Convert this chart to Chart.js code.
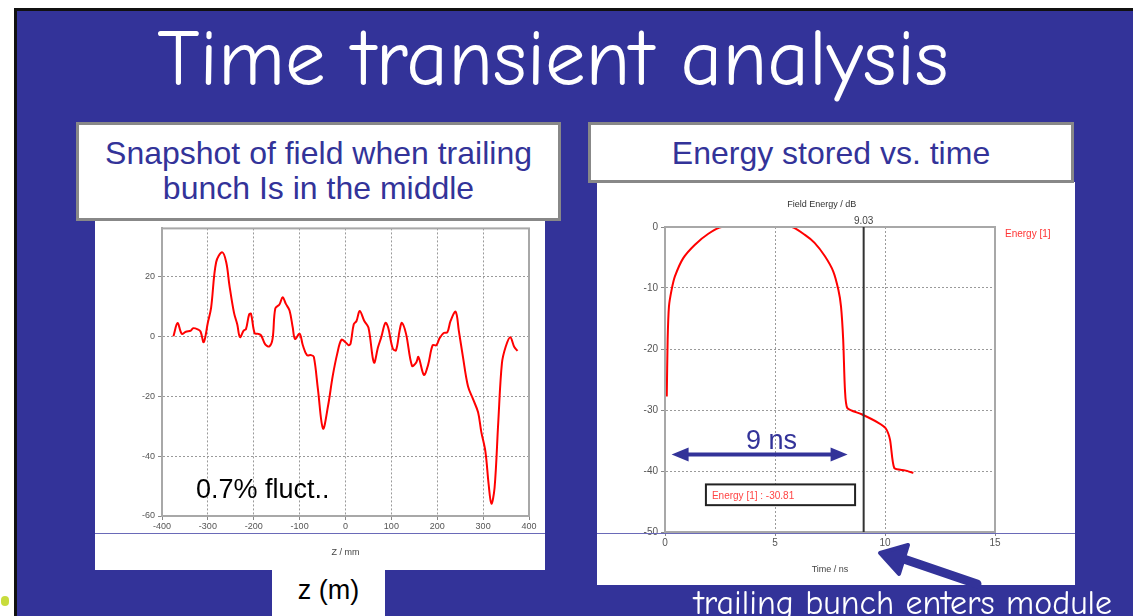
<!DOCTYPE html>
<html>
<head>
  <title>Time transient analysis</title>
  <style>
    body {
      margin: 0;
      width: 1133px;
      height: 616px;
      overflow: hidden;
      background: #fff;
      font-family: "Liberation Sans", Arial, sans-serif;
    }

    #slide {
      position: absolute;
      left: 14px;
      top: 8px;
      width: 1130px;
      height: 620px;
      background: #333399;
      border-left: 3px solid #111;
      border-top: 3px solid #111;
    }

    .abs { position: absolute; }

    #title {
      left: 0; top: 14px; width: 1106px;
      text-align: center;
      color: #fff;
      font-family: "Comic Sans MS", "Comic Neue", Lato, sans-serif;
      font-size: 81px;
      line-height: 90px;
      white-space: nowrap;
    }

    .header {
      background: #fff;
      border: 3px solid #888;
      box-sizing: border-box;
      color: #333399;
      text-align: center;
      font-size: 32px;
      line-height: 35px;
      white-space: nowrap;
    }

    .panel { background: #fff; }

    #leftHead { left: 76px; top: 122px; width: 485px; height: 99px; padding-top: 11px; }
    #rightHead { left: 588px; top: 122px; width: 486px; height: 61px; padding-top: 11px; }

    #leftPanel { left: 95px; top: 220px; width: 450px; height: 350px; }
    #rightPanel { left: 597px; top: 182px; width: 478px; height: 403px; }

    .sep { height: 0; border-top: 1.5px solid #6a6ab8; }

    #zbox {
      left: 272px; top: 570px; width: 113px; height: 50px;
      background: #fff; text-align: center;
      font-size: 27px; line-height: 40px; color: #000;
    }

    #fluct { left: 196px; top: 474px; font-size: 27px; color: #000; }

    #bunch {
      left: 694px; top: 583px;
      color: #fff;
      font-family: "Comic Sans MS", "Comic Neue", Lato, sans-serif;
      font-size: 34px;
      white-space: nowrap;
    }

    #dot { left: 1px; top: 596px; width: 8px; height: 10px; border-radius: 5px; background: #c8dc3c; }
  </style>
</head>
<body>
  <div id="slide"></div>
  <div id="dot" class="abs"></div>
  <div id="title" class="abs">Time transient analysis</div>

  <div id="leftPanel" class="abs panel"><canvas id="fieldChart" width="450" height="350"></canvas></div>
  <div id="rightPanel" class="abs panel"><canvas id="energyChart" width="478" height="403"></canvas></div>

  <div class="abs sep" style="left:95px; top:533px; width:450px;"></div>
  <div class="abs sep" style="left:597px; top:533px; width:478px;"></div>

  <div id="leftHead" class="abs header">Snapshot of field when trailing<br>bunch Is in the middle</div>
  <div id="rightHead" class="abs header">Energy stored vs. time</div>

  <div id="fluct" class="abs">0.7% fluct..</div>
  <div id="zbox" class="abs">z (m)</div>

  <svg class="abs" style="left:0; top:0;" width="1133" height="616">
    <line x1="977" y1="584" x2="895" y2="556" stroke="#333399" stroke-width="9" stroke-linecap="round"/>
    <polygon points="880,553 908,545 899,574" fill="#333399" stroke="#333399" stroke-width="4" stroke-linejoin="round"/>
  </svg>
  <div id="bunch" class="abs">trailing bunch enters module</div>

  <script src="https://cdn.jsdelivr.net/npm/chart.js"></script>
  <script>
    // field snapshot along z (mm)
    const zPos = [-375, -366, -357, -348, -337, -332, -322, -316, -309, -300, -293, -282, -269, -260, -253,
      -243, -236, -230, -222, -217, -210, -206, -198, -190, -184, -175, -166, -159, -153, -144, -137,
      -130, -122, -115, -110, -100, -93, -84, -75, -69, -60, -49, -38, -28, -18, -9, 0, 7, 11, 18, 24,
      31, 41, 50, 62, 71, 78, 87, 93, 103, 110, 118, 123, 132, 145, 154, 159, 171, 180, 190, 198, 205,
      214, 222, 229, 240, 247, 256, 267, 278, 289, 296, 305, 312, 318, 325, 333, 341, 349, 359, 368, 375];
    const fieldVal = [0, 4.4, 0.8, 1.5, 1.9, 2.7, 2.3, 1.6, -2, 4.6, 9.5, 24.7, 28, 24.7, 17,
      7.8, 4, -0.3, 1.9, 2.4, 7.3, 7.5, 1, 0.8, 0.3, -2.7, -3.4, -0.9, 9.3, 10.6, 13,
      10.8, 8.6, 2.9, -0.9, 0.8, -3, -6.3, -6.3, -6.9, -17.8, -30.8, -23.2, -13.4, -5.8, -1.2, -2, -3, -2.5, 4, 5.1,
      8.4, 5.1, 2.9, -8.8, -3.6, -0.3, 4.5, 2.9, -4.1, -4.7, 1.9, 4.5, 0.8, -9.9, -8.8, -6.9, -12.9, -9.6, -3, -3, -0.7,
      1.1, 1.3, 5.1, 8.2, 1.9, -6.9, -16.7, -21, -25.4, -31.9, -38.5, -49.4, -55.9, -50.5, -28.7, -9, -3.6, -0.3, -3.6, -4.9];

    // stored field energy vs time (ns)
    const timeNs = [0.08, 0.12, 0.18, 0.3, 0.45, 0.83, 1.36, 1.97, 2.58, 5.76, 6.36, 6.8, 7.27, 7.65,
      7.88, 8.0, 8.1, 8.18, 8.29, 8.94, 9.7, 10.03, 10.23, 10.42, 10.9, 11.29];
    const energyDb = [-27.8, -18.5, -13, -10.3, -8.1, -5.1, -2.9, -1.1, 0, 0, -1.3, -2.6, -4.8, -7.3,
      -10.3, -13, -18.5, -26.7, -29.7, -30.7, -32.1, -33, -34.9, -39.5, -39.9, -40.3];

    const fieldTicks = [-60, -40, -20, 0, 20];
    const markerTime = 9.03;
    const markerLabel = "9.03";
    const readout = "Energy [1] : -30.81";
    const seriesName = "Energy [1]";

    const tickFont = { family: "'Liberation Sans', Arial, sans-serif", size: 9 };
    const gridStyle = { color: "#9a9a9a", lineWidth: 1, tickLength: 4, tickColor: "#888" };

    // frame round the plot area, like the solver output
    const frame = {
      id: "frame",
      afterDraw(chart) {
        const { ctx, chartArea: a } = chart;
        ctx.save();
        ctx.strokeStyle = "#a8a8a8";
        ctx.lineWidth = 2;
        ctx.strokeRect(a.left, a.top, a.right - a.left, a.bottom - a.top);
        ctx.restore();
      }
    };

    new Chart(document.getElementById("fieldChart"), {
      type: "line",
      data: {
        datasets: [{
          data: zPos.map((z, i) => ({ x: z, y: fieldVal[i] })),
          borderColor: "#ff0000",
          borderWidth: 2,
          pointRadius: 0,
          tension: 0.35
        }]
      },
      options: {
        responsive: false,
        animation: false,
        layout: { padding: { left: 0, right: 16, top: 2, bottom: 0 } },
        plugins: { legend: { display: false }, tooltip: { enabled: false } },
        scales: {
          x: {
            type: "linear", min: -400, max: 400,
            ticks: { stepSize: 100, color: "#555", font: tickFont, maxRotation: 0, padding: 1 },
            grid: gridStyle,
            border: { color: "#a8a8a8", width: 2, dash: [2, 2] },
            title: { display: true, text: "Z / mm", color: "#444", font: tickFont, padding: { top: 0, bottom: 12 } },
            afterFit(ax) { ax.height = 54; }
          },
          y: {
            min: -60, max: 36,
            ticks: { color: "#555", font: tickFont, padding: 3 },
            afterBuildTicks(ax) { ax.ticks = fieldTicks.map(v => ({ value: v })); },
            grid: gridStyle,
            border: { color: "#a8a8a8", width: 2, dash: [2, 2] },
            afterFit(ax) { ax.width = 67; }
          }
        }
      },
      plugins: [frame]
    });

    // marker line, readout box, legend, axis heading and the 9 ns span
    const energyExtras = {
      id: "energyExtras",
      afterDraw(chart) {
        const { ctx, chartArea: a, scales: { x, y } } = chart;
        ctx.save();
        ctx.font = "9px 'Liberation Sans', Arial, sans-serif";
        ctx.fillStyle = "#333";
        ctx.textAlign = "center";
        ctx.fillText("Field Energy / dB", a.left + (a.right - a.left) * 0.475, 25);

        const mx = x.getPixelForValue(markerTime);
        ctx.strokeStyle = "#333";
        ctx.lineWidth = 2;
        ctx.beginPath();
        ctx.moveTo(mx, a.top);
        ctx.lineTo(mx, a.bottom);
        ctx.stroke();
        ctx.fillStyle = "#444";
        ctx.font = "10px 'Liberation Sans', Arial, sans-serif";
        ctx.fillText(markerLabel, mx, a.top - 3);

        ctx.textAlign = "left";
        ctx.fillStyle = "#ff3333";
        ctx.fillText(seriesName, a.right + 10, a.top + 10);

        const bx1 = x.getPixelForValue(1.86), bx2 = x.getPixelForValue(8.64);
        const by1 = y.getPixelForValue(-42.2), by2 = y.getPixelForValue(-45.6);
        ctx.fillStyle = "#fff";
        ctx.fillRect(bx1, by1, bx2 - bx1, by2 - by1);
        ctx.strokeStyle = "#222";
        ctx.lineWidth = 2;
        ctx.strokeRect(bx1, by1, bx2 - bx1, by2 - by1);
        ctx.fillStyle = "#ff4444";
        ctx.fillText(readout, bx1 + 6, (by1 + by2) / 2 + 4);

        // 9 ns double arrow
        const ax1 = x.getPixelForValue(0.3), ax2 = x.getPixelForValue(8.3);
        const ay = y.getPixelForValue(-37.3);
        ctx.strokeStyle = "#333399";
        ctx.fillStyle = "#333399";
        ctx.lineWidth = 4;
        ctx.beginPath();
        ctx.moveTo(ax1 + 12, ay);
        ctx.lineTo(ax2 - 12, ay);
        ctx.stroke();
        ctx.beginPath();
        ctx.moveTo(ax1, ay); ctx.lineTo(ax1 + 17, ay - 7); ctx.lineTo(ax1 + 17, ay + 7); ctx.closePath();
        ctx.moveTo(ax2, ay); ctx.lineTo(ax2 - 17, ay - 7); ctx.lineTo(ax2 - 17, ay + 7); ctx.closePath();
        ctx.fill();
        ctx.font = "27px 'Liberation Sans', Arial, sans-serif";
        ctx.textAlign = "center";
        ctx.fillText("9 ns", (ax1 + ax2) / 2 + 12, ay - 6);
        ctx.restore();
      }
    };

    new Chart(document.getElementById("energyChart"), {
      type: "line",
      data: {
        datasets: [{
          label: seriesName,
          data: timeNs.map((t, i) => ({ x: t, y: energyDb[i] })),
          borderColor: "#ff0000",
          borderWidth: 2,
          pointRadius: 0,
          tension: 0.2
        }]
      },
      options: {
        responsive: false,
        animation: false,
        layout: { padding: { left: 0, right: 80, top: 45, bottom: 0 } },
        plugins: { legend: { display: false }, tooltip: { enabled: false } },
        scales: {
          x: {
            type: "linear", min: 0, max: 15,
            ticks: { stepSize: 5, color: "#555", font: { ...tickFont, size: 10 }, maxRotation: 0, padding: 1 },
            grid: gridStyle,
            border: { color: "#a8a8a8", width: 2, dash: [2, 2] },
            title: { display: true, text: "Time / ns", color: "#444", font: tickFont, padding: { top: 0, bottom: 10 } },
            afterFit(ax) { ax.height = 53; }
          },
          y: {
            min: -50, max: 0,
            ticks: { stepSize: 10, color: "#555", font: { ...tickFont, size: 10 }, padding: 3 },
            grid: gridStyle,
            border: { color: "#a8a8a8", width: 2, dash: [2, 2] },
            afterFit(ax) { ax.width = 68; }
          }
        }
      },
      plugins: [frame, energyExtras]
    });
  </script>
</body>
</html>
